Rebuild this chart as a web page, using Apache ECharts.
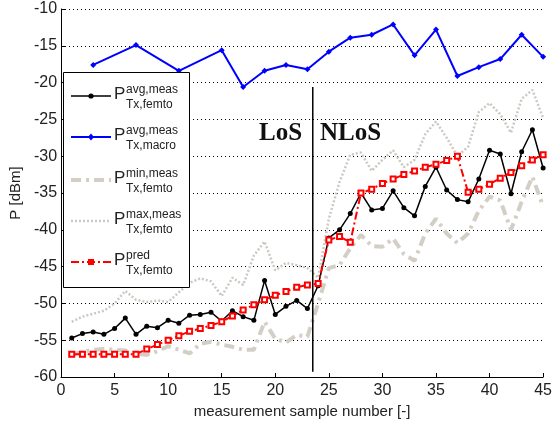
<!DOCTYPE html>
<html>
<head>
<meta charset="utf-8">
<script src="https://cdn.jsdelivr.net/npm/echarts@6/dist/echarts.min.js"></script>
<style>
  html, body { margin: 0; background: #fff; }
  #chart { width: 555px; height: 424px; }
</style>
</head>
<body>
<div id="chart"></div>
<script>
// measurement sample index
const samples = [1, 2, 3, 4, 5, 6, 7, 8, 9, 10, 11, 12, 13, 14, 15, 16, 17, 18, 19, 20, 21, 22, 23,
  24, 25, 26, 27, 28, 29, 30, 31, 32, 33, 34, 35, 36, 37, 38, 39, 40, 41, 42, 43, 44, 45]

// P avg,meas Tx,femto
const avgFemto = [-54.7, -54.1, -53.9, -54.2, -53.4, -52.0, -54.2, -53.1, -53.3, -52.3, -52.7, -51.6, -51.5,
  -51.2, -52.4, -51.0, -51.8, -52.3, -46.9, -51.5, -50.4, -49.6, -50.7, -47.6, -41.1, -40.0, -37.8, -35.0,
  -37.3, -37.1, -34.7, -37.0, -38.1, -34.1, -31.5, -34.6, -35.9, -36.2, -33.1, -29.2, -29.7, -35.1, -29.4,
  -26.4, -31.6]

// P avg,meas Tx,macro (every second / fourth sample)
const macroSamples = [3, 7, 11, 15, 17, 19, 21, 23, 25, 27, 29, 31, 33, 35, 37, 39, 41, 43, 45]
const avgMacro = [-17.6, -14.9, -18.4, -15.6, -20.6, -18.4, -17.6, -18.2, -15.8, -13.9, -13.5, -12.1, -16.3,
  -12.8, -19.1, -17.9, -16.8, -13.5, -16.5]

// P min,meas Tx,femto
const minFemto = [-56.9, -56.6, -56.3, -56.2, -56.3, -56.4, -56.8, -57.0, -56.5, -55.8, -56.3, -56.8, -55.5,
  -55.2, -55.6, -55.9, -56.3, -56.3, -52.5, -54.8, -55.3, -54.3, -54.5, -50.0, -45.2, -44.8, -42.5, -40.7,
  -42.2, -42.3, -41.2, -43.3, -44.2, -40.5, -38.5, -40.5, -41.8, -40.5, -37.4, -35.5, -36.0, -40.0, -36.2,
  -32.8, -36.8]

// P max,meas Tx,femto
const maxFemto = [-52.5, -51.8, -51.4, -51.0, -50.0, -48.3, -49.5, -49.8, -49.6, -49.8, -48.5, -47.2, -46.6,
  -47.0, -49.0, -46.5, -47.5, -43.5, -41.6, -45.5, -44.5, -44.8, -45.2, -46.5, -38.5, -33.5, -29.8, -29.5,
  -32.0, -30.5, -29.2, -31.5, -30.5, -27.0, -25.3, -27.5, -30.0, -28.7, -24.0, -22.8, -24.3, -26.8, -22.2,
  -21.0, -24.8]

// P pred Tx,femto
const predFemto = [-56.9, -56.9, -56.9, -56.9, -56.9, -56.9, -56.9, -56.2, -55.6, -55.0, -54.4, -53.8, -53.4,
  -53.0, -52.5, -51.7, -50.9, -50.2, -49.5, -48.9, -48.4, -47.8, -47.5, -47.3, -41.4, -40.9, -41.7, -35.0,
  -34.5, -33.7, -33.1, -32.5, -32.0, -31.5, -31.1, -30.6, -30.0, -34.9, -34.5, -33.8, -33.0, -32.2, -31.3,
  -30.5, -29.8]

// LoS / NLoS boundary
const boundaryX = [23.5, 23.5]
const boundaryY = [-20.6, -59.3]

const xTicks = [0, 45, 5]     // min, max, step
const yTicks = [-60, -10, 5]

const FONT = '"Liberation Sans", Arial, sans-serif'
const pairs = (xs, ys) => xs.map((x, i) => [x, ys[i]])

const C_BLACK = '#000'
const C_BLUE = '#0000ff'
const C_MIN = '#d3cfc6'
const C_MAX = '#cbc9c2'
const C_RED = '#ff0000'
const DASH_MIN = [10, 5, 3, 5]
const DASH_MAX = [2, 2]
const DASH_RED = [8, 3, 2, 3]

const chart = echarts.init(document.getElementById('chart'), null, { renderer: 'canvas' })

// legend drawn by hand (stacked super/subscripts)
const legendRows = [
  { sup: 'avg,meas', sub: 'Tx,femto', color: C_BLACK, width: 1.5, dash: null, mark: 'dot' },
  { sup: 'avg,meas', sub: 'Tx,macro', color: C_BLUE, width: 2, dash: null, mark: 'diamond' },
  { sup: 'min,meas', sub: 'Tx,femto', color: C_MIN, width: 4, dash: DASH_MIN, mark: null },
  { sup: 'max,meas', sub: 'Tx,femto', color: C_MAX, width: 2.5, dash: DASH_MAX, mark: null },
  { sup: 'pred', sub: 'Tx,femto', color: C_RED, width: 2, dash: DASH_RED, mark: 'square' },
]
const rowY = [96, 137, 180, 221, 262]
const legendEls = [{
  type: 'rect', shape: { x: 63.5, y: 72.5, width: 126, height: 215 },
  style: { fill: '#fff', stroke: '#000', lineWidth: 1 }, z: 100
}]
legendRows.forEach((r, i) => {
  const y = rowY[i]
  legendEls.push({
    type: 'line', shape: { x1: 71, y1: y, x2: 111, y2: y }, z: 101,
    style: { stroke: r.color, lineWidth: r.width, lineDash: r.dash || null }
  })
  if (r.mark === 'dot') legendEls.push({ type: 'circle', shape: { cx: 91, cy: y, r: 2.6 }, style: { fill: r.color }, z: 102 })
  if (r.mark === 'diamond') legendEls.push({ type: 'polygon', shape: { points: [[91, y - 3.5], [94, y], [91, y + 3.5], [88, y]] }, style: { fill: r.color }, z: 102 })
  if (r.mark === 'square') legendEls.push({ type: 'rect', shape: { x: 88, y: y - 3, width: 6, height: 6 }, style: { fill: r.color }, z: 102 })
  legendEls.push(
    { type: 'text', x: 114, y: y - 2, z: 102, style: { text: 'P', font: '17px ' + FONT, fill: '#222', verticalAlign: 'middle' } },
    { type: 'text', x: 126, y: y - 6.5, z: 102, style: { text: r.sup, font: '12px ' + FONT, fill: '#222', verticalAlign: 'middle' } },
    { type: 'text', x: 126, y: y + 8.5, z: 102, style: { text: r.sub, font: '12px ' + FONT, fill: '#222', verticalAlign: 'middle' } }
  )
})

chart.setOption({
  animation: false,
  backgroundColor: '#fff',
  grid: { left: 57, right: 8, top: 9, bottom: 47 },
  xAxis: {
    type: 'value', min: xTicks[0], max: xTicks[1], interval: xTicks[2],
    name: 'measurement sample number [-]', nameLocation: 'middle', nameGap: 26,
    nameTextStyle: { fontFamily: FONT, fontSize: 15, color: '#222' },
    axisLine: { lineStyle: { color: '#000', width: 1 } },
    axisTick: { inside: true, length: 4, lineStyle: { color: '#000' } },
    axisLabel: { fontFamily: FONT, fontSize: 16, color: '#222', margin: 6 },
    splitLine: { show: false },
  },
  yAxis: {
    type: 'value', min: yTicks[0], max: yTicks[1], interval: yTicks[2],
    name: 'P [dBm]', nameLocation: 'middle', nameGap: 36,
    nameTextStyle: { fontFamily: FONT, fontSize: 15, color: '#222' },
    axisLine: { show: true, lineStyle: { color: '#000', width: 1 } },
    axisTick: { show: true, inside: true, length: 4, lineStyle: { color: '#000' } },
    axisLabel: { fontFamily: FONT, fontSize: 16, color: '#222', margin: 4 },
    splitLine: { show: true, lineStyle: { color: '#000', width: 1, type: [1, 3] } },
  },
  series: [
    {
      name: 'max', type: 'line', data: pairs(samples, maxFemto), showSymbol: false, z: 1,
      lineStyle: { color: C_MAX, width: 2.5, type: DASH_MAX },
    },
    {
      name: 'min', type: 'line', data: pairs(samples, minFemto), showSymbol: false, z: 1,
      lineStyle: { color: C_MIN, width: 4, type: DASH_MIN },
    },
    {
      name: 'macro', type: 'line', data: pairs(macroSamples, avgMacro), z: 2,
      symbol: 'diamond', symbolSize: 6, itemStyle: { color: C_BLUE },
      lineStyle: { color: C_BLUE, width: 2 },
    },
    {
      name: 'boundary', type: 'line', data: pairs(boundaryX, boundaryY), showSymbol: false, z: 2,
      lineStyle: { color: '#000', width: 1.5 },
    },
    {
      name: 'femto', type: 'line', data: pairs(samples, avgFemto), z: 3,
      symbol: 'circle', symbolSize: 5, itemStyle: { color: C_BLACK },
      lineStyle: { color: C_BLACK, width: 1.5 },
    },
    {
      name: 'pred', type: 'line', data: pairs(samples, predFemto), z: 4,
      symbol: 'emptyRect', symbolSize: 5, itemStyle: { color: C_RED, borderWidth: 1 },
      lineStyle: { color: C_RED, width: 2, type: DASH_RED },
    },
  ],
  graphic: [
    { type: 'text', x: 259, y: 133.5, z: 50, style: { text: 'LoS', font: 'bold 25px "Liberation Serif", "Times New Roman", serif', fill: '#111', verticalAlign: 'middle' } },
    { type: 'text', x: 320, y: 133.5, z: 50, style: { text: 'NLoS', font: 'bold 25px "Liberation Serif", "Times New Roman", serif', fill: '#111', verticalAlign: 'middle' } },
    ...legendEls,
  ],
})
</script>
</body>
</html>
